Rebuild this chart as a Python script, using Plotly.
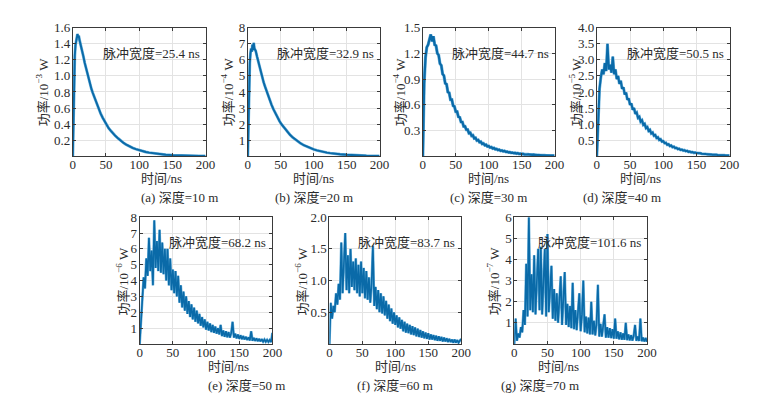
import plotly.graph_objects as go

# ---------------- data ----------------
time_ab = [0, 1, 2, 3, 4, 5, 6, 7, 8, 9, 10, 12, 14, 16, 18, 20, 22, 24, 26, 28, 30,
           33, 36, 39, 42, 45, 48, 51, 54, 57, 60, 64, 68, 72, 76, 80, 85, 90, 95, 100,
           105, 110, 115, 120, 125, 130, 140, 150, 160, 170, 180, 190, 200]
time_2ns = list(range(0, 201, 2))

power_10m = [0.0, 0.6, 1.0, 1.25, 1.38, 1.45, 1.5, 1.52, 1.48, 1.5, 1.45, 1.39, 1.31, 1.24,
             1.16, 1.09, 1.02, 0.96, 0.9, 0.84, 0.79, 0.72, 0.65, 0.59, 0.53, 0.48, 0.43,
             0.39, 0.35, 0.32, 0.29, 0.255, 0.225, 0.195, 0.17, 0.148, 0.125, 0.105, 0.09,
             0.076, 0.064, 0.054, 0.046, 0.039, 0.033, 0.028, 0.02, 0.015, 0.011, 0.008,
             0.006, 0.005, 0.004]

power_20m = [0.0, 2.5, 4.5, 5.8, 6.4, 6.7, 6.5, 6.95, 6.6, 7.05, 6.7, 6.55, 6.2, 5.85,
             5.5, 5.2, 4.9, 4.6, 4.35, 4.1, 3.85, 3.5, 3.2, 2.92, 2.66, 2.42, 2.2, 2.0,
             1.83, 1.67, 1.52, 1.34, 1.18, 1.04, 0.92, 0.81, 0.69, 0.59, 0.5, 0.43, 0.37,
             0.31, 0.27, 0.23, 0.2, 0.17, 0.13, 0.1, 0.07, 0.05, 0.04, 0.03, 0.02]

power_30m = [0.0, 0.85, 1.15, 1.27, 1.30, 1.36, 1.42, 1.34, 1.40, 1.30,
             1.29, 1.20, 1.18, 1.08, 1.06, 0.96, 0.94, 0.85, 0.84, 0.75,
             0.74, 0.66, 0.66, 0.59, 0.58, 0.52, 0.52, 0.46, 0.455, 0.40,
             0.40, 0.35, 0.35, 0.31, 0.31, 0.27, 0.275, 0.24, 0.245, 0.21,
             0.215, 0.185, 0.19, 0.165, 0.17, 0.145, 0.15, 0.13, 0.135, 0.115,
             0.12, 0.103, 0.107, 0.092, 0.096, 0.082, 0.086, 0.073, 0.077, 0.065,
             0.069, 0.058, 0.062, 0.052, 0.055, 0.046, 0.049, 0.041, 0.044, 0.037,
             0.04, 0.033, 0.036, 0.029, 0.032, 0.026, 0.029, 0.023, 0.026, 0.021,
             0.023, 0.019, 0.021, 0.017, 0.019, 0.015, 0.017, 0.014, 0.015, 0.012,
             0.014, 0.011, 0.012, 0.01, 0.011, 0.009, 0.01, 0.008, 0.009, 0.007,
             0.008]

power_40m = [0.0, 1.3, 2.1, 2.45, 2.7, 2.55, 2.9, 2.65, 3.5, 2.7,
             2.85, 2.6, 3.1, 2.55, 2.7, 2.4, 2.5, 2.25, 2.35, 2.1,
             2.15, 1.92, 1.98, 1.76, 1.8, 1.6, 1.64, 1.45, 1.5, 1.32,
             1.36, 1.2, 1.23, 1.08, 1.12, 0.98, 1.01, 0.88, 0.91, 0.79,
             0.82, 0.71, 0.74, 0.64, 0.66, 0.57, 0.59, 0.51, 0.53, 0.46,
             0.47, 0.41, 0.42, 0.36, 0.375, 0.32, 0.335, 0.285, 0.3, 0.255,
             0.265, 0.225, 0.235, 0.2, 0.21, 0.18, 0.19, 0.16, 0.17, 0.14,
             0.15, 0.125, 0.135, 0.11, 0.12, 0.1, 0.105, 0.09, 0.095, 0.08,
             0.085, 0.07, 0.075, 0.062, 0.067, 0.055, 0.06, 0.05, 0.054, 0.045,
             0.048, 0.04, 0.043, 0.036, 0.039, 0.032, 0.035, 0.029, 0.031, 0.026,
             0.028]

power_50m = [0.0, 1.6, 3.0, 4.2, 3.5, 5.4, 4.3, 6.7, 4.6, 5.9,
             3.7, 7.8, 4.8, 6.5, 4.6, 7.2, 4.5, 6.4, 4.4, 6.0,
             4.0, 6.0, 3.7, 5.4, 3.4, 4.7, 3.2, 4.6, 3.0, 4.3,
             2.6, 3.7, 2.3, 3.3, 2.1, 3.0, 1.9, 2.7, 1.7, 2.5,
             1.55, 2.3, 1.4, 2.1, 1.3, 1.9, 1.15, 1.7, 1.05, 1.55,
             0.9, 1.4, 0.85, 1.3, 0.75, 1.2, 0.7, 1.1, 0.65, 1.0,
             0.6, 1.2, 0.5, 0.85, 0.45, 0.8, 0.42, 0.75, 0.4, 0.7,
             1.4, 0.4, 0.65, 0.35, 0.6, 0.32, 0.55, 0.3, 0.5, 0.28,
             0.45, 0.25, 0.42, 0.22, 0.8, 0.2, 0.38, 0.2, 0.35, 0.18,
             0.32, 0.16, 0.3, 0.15, 0.28, 0.14, 0.26, 0.13, 0.25, 0.12,
             0.7]

power_60m = [0.0, 0.65, 0.4, 0.6, 0.5, 0.8, 0.62, 0.95, 0.7, 1.6,
             0.8, 1.35, 1.75, 0.85, 1.4, 0.8, 1.5, 0.9, 1.3, 0.85,
             1.35, 0.8, 1.25, 0.75, 1.3, 0.8, 1.2, 0.72, 1.15, 0.7,
             1.05, 0.65, 0.95, 1.55, 0.6, 0.9, 0.55, 0.85, 0.5, 0.8,
             0.48, 0.75, 0.45, 0.68, 0.4, 0.62, 0.36, 0.56, 0.32, 0.5,
             0.3, 0.45, 0.26, 0.42, 0.24, 0.38, 0.2, 0.35, 0.18, 0.32,
             0.17, 0.3, 0.15, 0.28, 0.14, 0.26, 0.12, 0.24, 0.11, 0.22,
             0.1, 0.2, 0.09, 0.18, 0.08, 0.17, 0.07, 0.15, 0.07, 0.14,
             0.06, 0.13, 0.05, 0.12, 0.05, 0.11, 0.04, 0.1, 0.04, 0.09,
             0.03, 0.08, 0.03, 0.07, 0.02, 0.07, 0.02, 0.06, 0.02, 0.05,
             0.08]

power_70m = [0.0, 1.2, 0.15, 0.5, 0.3, 0.8, 0.55, 1.6, 0.9, 3.8,
             1.3, 6.0, 1.6, 3.3, 1.5, 4.2, 1.4, 3.2, 4.5, 1.6,
             4.6, 1.4, 3.0, 4.5, 1.3, 5.2, 1.5, 2.8, 3.7, 1.2,
             2.6, 1.1, 2.4, 1.0, 2.3, 3.2, 0.9, 2.1, 3.4, 0.9,
             1.9, 0.8, 1.8, 0.75, 2.9, 0.7, 1.6, 0.65, 1.5, 2.4,
             0.6, 1.4, 3.0, 0.55, 1.3, 0.5, 1.25, 0.45, 2.0, 0.45,
             1.1, 0.4, 1.0, 2.8, 0.35, 0.95, 0.35, 0.9, 1.4, 0.3,
             0.8, 0.3, 0.75, 0.28, 0.7, 0.25, 1.2, 0.25, 0.6, 0.22,
             0.55, 0.2, 0.5, 0.2, 1.0, 0.18, 0.45, 0.17, 0.42, 0.16,
             0.4, 0.9, 0.15, 0.35, 0.14, 1.2, 0.13, 0.3, 0.12, 0.28,
             0.1]

x_ticks = [0, 50, 100, 150, 200]
y_ticks_a = [0.2, 0.4, 0.6, 0.8, 1.0, 1.2, 1.4, 1.6]
y_labels_a = ["0.2", "0.4", "0.6", "0.8", "1.0", "1.2", "1.4", "1.6"]
y_ticks_b = [1, 2, 3, 4, 5, 6, 7, 8]
y_labels_b = ["1", "2", "3", "4", "5", "6", "7", "8"]
y_ticks_c = [0.3, 0.6, 0.9, 1.2, 1.5]
y_labels_c = ["0.3", "0.6", "0.9", "1.2", "1.5"]
y_ticks_d = [0.5, 1.0, 1.5, 2.0, 2.5, 3.0, 3.5, 4.0]
y_labels_d = ["0.5", "1.0", "1.5", "2.0", "2.5", "3.0", "3.5", "4.0"]
y_ticks_e = [1, 2, 3, 4, 5, 6, 7, 8]
y_labels_e = ["1", "2", "3", "4", "5", "6", "7", "8"]
y_ticks_f = [0.5, 1.0, 1.5, 2.0]
y_labels_f = ["0.5", "1.0", "1.5", "2.0"]
y_ticks_g = [1, 2, 3, 4, 5, 6]
y_labels_g = ["1", "2", "3", "4", "5", "6"]

exponents = ["3", "4", "4", "5", "6", "6", "7"]
pulse_widths = ["25.4", "32.9", "44.7", "50.5", "68.2", "83.7", "101.6"]
captions = ["(a) 深度=10 m", "(b) 深度=20 m", "(c) 深度=30 m", "(d) 深度=40 m",
            "(e) 深度=50 m", "(f) 深度=60 m", "(g) 深度=70 m"]

# ---------------- layout geometry (pixels) ----------------
W, H = 775, 397
# (left, right, top, bottom) of each plot area
boxes = [(71, 206, 21, 152), (249, 383, 21, 152), (427, 561, 21, 152), (604, 739, 21, 152),
         (139, 274, 214, 343), (332, 466, 214, 343), (520, 655, 214, 343)]
ylabel_x = [40, 228, 403, 582, 121, 303, 498]
yranges = [1.6, 8, 1.5, 4, 8, 2, 6]
line_w = [1.9, 1.9, 2.2, 2.0, 1.6, 1.6, 1.6]

panels = [
    (time_ab, power_10m, y_ticks_a, y_labels_a),
    (time_ab, power_20m, y_ticks_b, y_labels_b),
    (time_2ns, power_30m, y_ticks_c, y_labels_c),
    (time_2ns, power_40m, y_ticks_d, y_labels_d),
    (time_2ns, power_50m, y_ticks_e, y_labels_e),
    (time_2ns, power_60m, y_ticks_f, y_labels_f),
    (time_2ns, power_70m, y_ticks_g, y_labels_g),
]

SERIF = "Liberation Serif, Noto Sans CJK SC, serif"
TXT = "#2b2b2b"
LINE = "#0a6aa8"
HALO = "#6fb3dc"

fig = go.Figure()
layout = dict(width=W, height=H, margin=dict(l=0, r=0, t=0, b=0),
              paper_bgcolor="white", plot_bgcolor="white", showlegend=False,
              font=dict(family=SERIF, size=13, color=TXT))
annotations = []

def px(x):
    return x / W

def py(y):
    return 1 - y / H

for i, (tx, vals, yt, yl) in enumerate(panels):
    n = "" if i == 0 else str(i + 1)
    l, r, t, b = boxes[i]
    # soft light-blue edge under the main trace (noise halo)
    fig.add_trace(go.Scatter(x=tx, y=vals, mode="lines", xaxis="x" + n, yaxis="y" + n,
                             line=dict(color=HALO, width=line_w[i] + 1.0), hoverinfo="skip"))
    fig.add_trace(go.Scatter(x=tx, y=vals, mode="lines", xaxis="x" + n, yaxis="y" + n,
                             line=dict(color=LINE, width=line_w[i]), hoverinfo="skip"))
    common = dict(showline=True, linecolor="#3a3a3a", linewidth=1, mirror="ticks",
                  ticks="inside", ticklen=3, tickcolor="#3a3a3a", showgrid=True,
                  gridcolor="#e3e3e3", gridwidth=1, zeroline=False,
                  tickfont=dict(family=SERIF, size=13, color=TXT))
    layout["xaxis" + n] = dict(common, domain=[px(l), px(r)], range=[0, 200],
                               tickvals=x_ticks, ticktext=[str(v) for v in x_ticks],
                               anchor="y" + n, ticklabelstandoff=-4)
    layout["yaxis" + n] = dict(common, domain=[py(b), py(t)], range=[0, yranges[i]],
                               tickvals=yt, ticktext=yl, anchor="x" + n,
                               ticklabelstandoff=-1)
    cx = (l + r) / 2
    annotations.append(dict(text="时间/ns", x=px(cx), y=py(b + 23), xref="paper", yref="paper",
                            showarrow=False, font=dict(size=13, color=TXT), yanchor="middle"))
    annotations.append(dict(text=captions[i], x=px(cx), y=py(b + 42), xref="paper", yref="paper",
                            showarrow=False, font=dict(size=13, color=TXT), yanchor="middle"))
    annotations.append(dict(text="功率/10<sup>−" + exponents[i] + "</sup> W",
                            x=px(ylabel_x[i]), y=py((t + b) / 2), xref="paper", yref="paper",
                            textangle=-90, showarrow=False, font=dict(size=13, color=TXT),
                            xanchor="center", yanchor="middle"))
    annotations.append(dict(text="脉冲宽度=" + pulse_widths[i] + " ns",
                            x=px(r - 4), y=py(t + 26), xref="paper", yref="paper",
                            showarrow=False, font=dict(size=13, color=TXT),
                            xanchor="right", yanchor="middle"))

layout["annotations"] = annotations
fig.update_layout(**layout)
fig.write_html("out.html", config={"displayModeBar": False},
               post_script="document.body.style.margin='0';document.body.style.overflow='hidden';")
